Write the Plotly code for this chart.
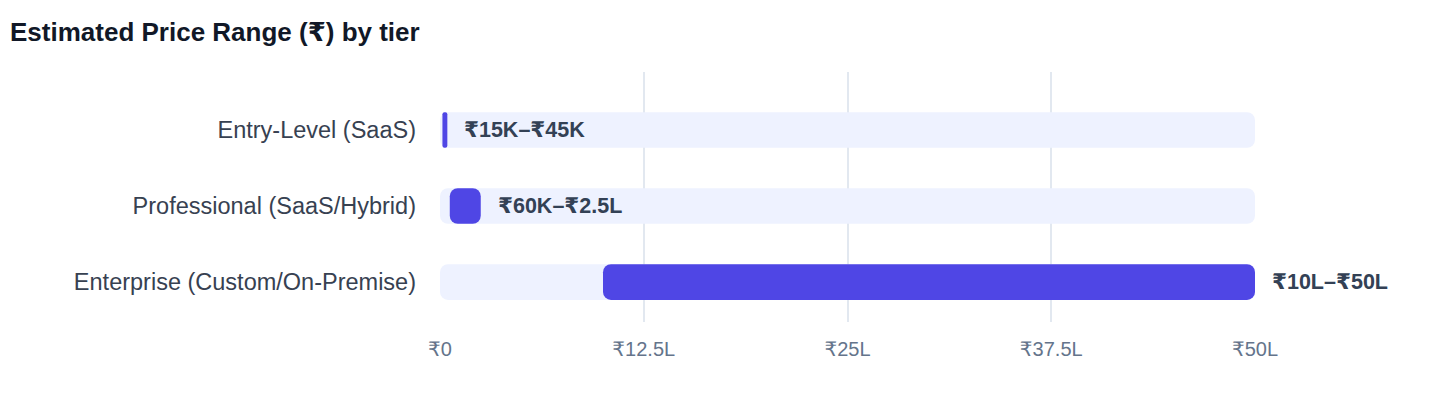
import plotly.graph_objects as go

tiers = ["Entry-Level (SaaS)", "Professional (SaaS/Hybrid)", "Enterprise (Custom/On-Premise)"]
low_lakh = [0.15, 0.6, 10]
high_lakh = [0.45, 2.5, 50]
range_labels = ["₹15K–₹45K", "₹60K–₹2.5L", "₹10L–₹50L"]
axis_max = 50
tick_vals = [0, 12.5, 25, 37.5, 50]
tick_text = ["₹0", "₹12.5L", "₹25L", "₹37.5L", "₹50L"]

FONT = "Liberation Sans, Arial, Helvetica, DejaVu Sans, sans-serif"

fig = go.Figure()
fig.add_trace(go.Bar(
    y=tiers, x=[axis_max] * len(tiers), base=[0] * len(tiers), orientation="h",
    marker=dict(color="#EEF2FF", line=dict(width=0)), width=0.47,
    hoverinfo="skip", showlegend=False,
))
fig.add_trace(go.Bar(
    y=tiers, x=[h - l for l, h in zip(low_lakh, high_lakh)], base=low_lakh, orientation="h",
    marker=dict(color="#4F46E5", line=dict(width=0)), width=0.47,
    showlegend=False,
))
for t, h, lab in zip(tiers, high_lakh, range_labels):
    fig.add_annotation(x=h, y=t, text=lab, showarrow=False, xanchor="left", yanchor="middle",
                       xshift=15, font=dict(family=FONT, size=21.5, color="#334155", weight="bold"))

fig.add_annotation(text="<b>Estimated Price Range (₹) by tier</b>", xref="paper", yref="paper",
                   x=0, y=1, xanchor="left", yanchor="middle", xshift=-432, yshift=40,
                   showarrow=False, font=dict(family=FONT, size=26, color="#111827"))

fig.update_layout(
    width=1440, height=408,
    barmode="overlay", barcornerradius=8,
    paper_bgcolor="white", plot_bgcolor="white",
    margin=dict(l=432, r=193, t=64, b=94),
    font=dict(family=FONT),
    xaxis=dict(range=[0, axis_max], tickvals=tick_vals, ticktext=tick_text, showgrid=True,
               gridcolor="#E2E8F0", gridwidth=1.5, zeroline=False, showline=False, ticks="",
               tickfont=dict(family=FONT, size=20, color="#64748B"), ticklabelstandoff=13),
    yaxis=dict(categoryorder="array", categoryarray=tiers, range=[2.526, -0.763],
               showgrid=False, zeroline=False, showline=False, ticks="",
               tickfont=dict(family=FONT, size=23.5, color="#374151"), ticklabelstandoff=23),
)
fig.write_html("out.html")
